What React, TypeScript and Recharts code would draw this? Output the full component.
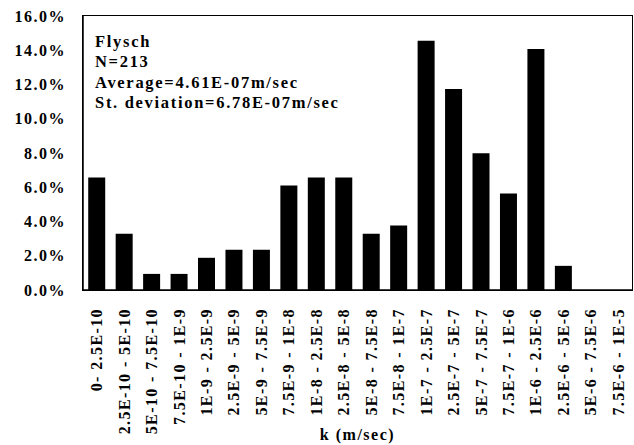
import React from 'react';
import { BarChart, Bar, XAxis, YAxis } from 'recharts';

const categories = [
  '0- 2.5E-10', '2.5E-10 - 5E-10', '5E-10 - 7.5E-10', '7.5E-10 - 1E-9',
  '1E-9 - 2.5E-9', '2.5E-9 - 5E-9', '5E-9 - 7.5E-9', '7.5E-9 - 1E-8',
  '1E-8 - 2.5E-8', '2.5E-8 - 5E-8', '5E-8 - 7.5E-8', '7.5E-8 - 1E-7',
  '1E-7 - 2.5E-7', '2.5E-7 - 5E-7', '5E-7 - 7.5E-7', '7.5E-7 - 1E-6',
  '1E-6 - 2.5E-6', '2.5E-6 - 5E-6', '5E-6 - 7.5E-6', '7.5E-6 - 1E-5',
];

// percent of samples in each class (N=213)
const percents = [
  6.57, 3.29, 0.94, 0.94, 1.88, 2.35, 2.35, 6.1, 6.57, 6.57,
  3.29, 3.76, 14.55, 11.74, 7.98, 5.63, 14.08, 1.41, 0, 0,
];

const yTicks = [0, 2, 4, 6, 8, 10, 12, 14, 16];

const infoLines = ['Flysch', 'N=213', 'Average=4.61E-07m/sec', 'St. deviation=6.78E-07m/sec'];

const data = categories.map((name, i) => ({ name, value: percents[i] }));

const font = '"Liberation Serif", "Times New Roman", Times, serif';

const CategoryTick = (props: any) => {
  const { x, y, payload } = props;
  return (
    <text
      x={x}
      y={y}
      transform={`rotate(-90 ${x} ${y})`}
      dx={-10}
      dy={5.5}
      textAnchor="end"
      style={{ fontFamily: font, fontWeight: 'bold', fontSize: 16, letterSpacing: 1.4 }}
      fill="#000"
    >
      {payload.value}
    </text>
  );
};

export default function App() {
  return (
    <div style={{ position: 'absolute', left: 0, top: 0, width: 634, height: 445, background: '#fff', fontFamily: font }}>
      <BarChart
        width={634}
        height={445}
        data={data}
        margin={{ top: 16, right: 2, left: 0, bottom: 0 }}
        barCategoryGap="19%"
      >
        <XAxis
          dataKey="name"
          interval={0}
          height={155}
          tick={<CategoryTick />}
          tickLine={false}
          axisLine={{ stroke: '#000', strokeWidth: 1.5 }}
          label={{
            value: 'k (m/sec)',
            position: 'insideBottom',
            offset: 5,
            fill: '#000',
            style: { fontFamily: font, fontWeight: 'bold', fontSize: 16, letterSpacing: 1.5 },
          }}
        />
        <YAxis
          domain={[0, 16]}
          ticks={yTicks}
          width={83}
          tickLine={false}
          axisLine={{ stroke: '#000', strokeWidth: 1.5 }}
          tickFormatter={(v: number) => `${v.toFixed(1)}%`}
          tick={{ fill: '#000', style: { fontFamily: font, fontWeight: 'bold', fontSize: 16, letterSpacing: 1.5 } }}
          tickMargin={11}
        />
        <Bar dataKey="value" fill="#000" isAnimationActive={false} />
      </BarChart>
      {/* plot frame */}
      <div
        style={{
          position: 'absolute',
          left: 82,
          top: 15,
          width: 549,
          height: 274,
          border: '1.5px solid #000',
          pointerEvents: 'none',
        }}
      />
      <div
        style={{
          position: 'absolute',
          left: 95,
          top: 32,
          fontFamily: font,
          fontWeight: 'bold',
          fontSize: 16.5,
          letterSpacing: 1.7,
          lineHeight: '20.3px',
          color: '#000',
        }}
      >
        {infoLines.map((t) => (
          <div key={t}>{t}</div>
        ))}
      </div>
    </div>
  );
}
